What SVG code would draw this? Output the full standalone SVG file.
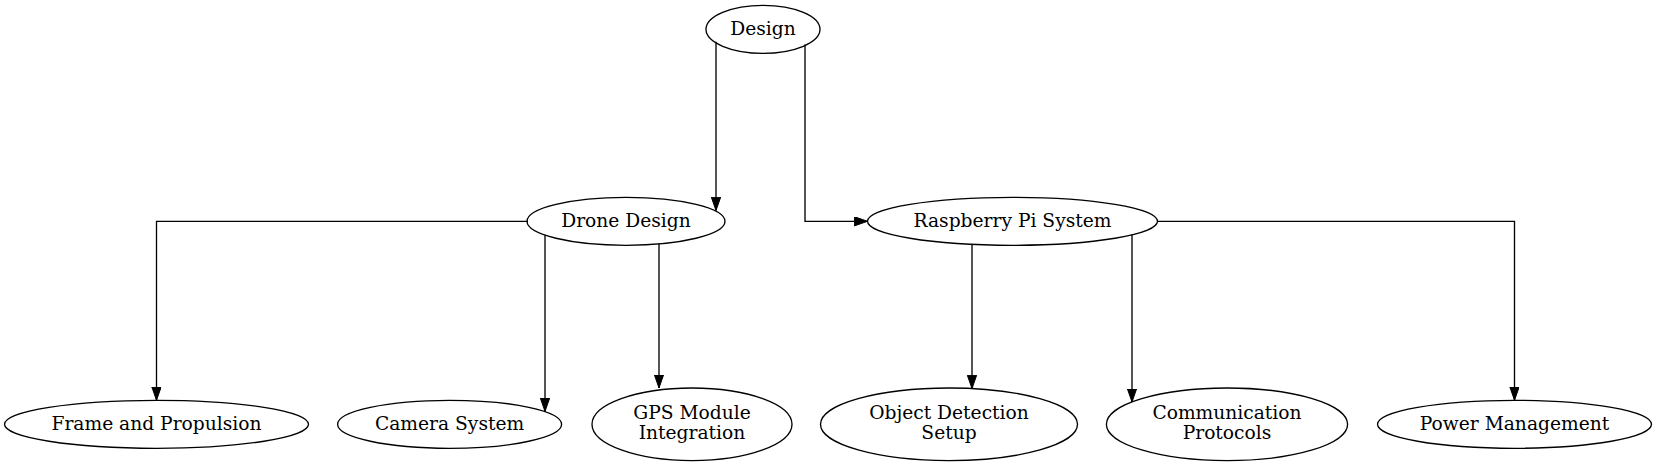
<svg xmlns="http://www.w3.org/2000/svg" width="1659" height="466" viewBox="0 0 1659 466">
<style>
.node ellipse{fill:none;stroke:#000;stroke-width:1.33}
.node text{font-family:"DejaVu Serif","Liberation Serif",serif;font-size:18.67px;text-anchor:middle;fill:#000}
.edge{fill:none;stroke:#000;stroke-width:1.33}
</style>
<defs>
<marker id="arr" markerUnits="userSpaceOnUse" markerWidth="14" markerHeight="10" refX="13.33" refY="4.67" orient="auto">
<path d="M0,0 L13.33,4.67 L0,9.33 z" fill="#000" stroke="#000" stroke-width="1"/>
</marker>
</defs>
<rect width="1659" height="466" fill="#fff"/>
<g id="connectors">
<path class="edge" marker-end="url(#arr)" d="M716,41.8 V210.5"/>
<path class="edge" marker-end="url(#arr)" d="M805,44.5 V221.3 H867.5"/>
<path class="edge" marker-end="url(#arr)" d="M528,221.3 H156.5 V400.3"/>
<path class="edge" marker-end="url(#arr)" d="M545,234.8 V411.4"/>
<path class="edge" marker-end="url(#arr)" d="M659,243.6 V388"/>
<path class="edge" marker-end="url(#arr)" d="M972,244.3 V388.6"/>
<path class="edge" marker-end="url(#arr)" d="M1132,234.6 V402"/>
<path class="edge" marker-end="url(#arr)" d="M1157.5,221.3 H1514.5 V400.3"/>
</g>
<g id="design" class="node"><ellipse cx="763" cy="29.3" rx="57" ry="24"/><text x="763" y="34.9">Design</text></g>
<g id="drone_design" class="node"><ellipse cx="626" cy="221.3" rx="99" ry="24"/><text x="626" y="226.9">Drone Design</text></g>
<g id="raspberry_pi" class="node"><ellipse cx="1012.5" cy="221.3" rx="145" ry="24"/><text x="1012.5" y="226.9">Raspberry Pi System</text></g>
<g id="frame" class="node"><ellipse cx="156.5" cy="424.3" rx="152" ry="24"/><text x="156.5" y="429.9">Frame and Propulsion</text></g>
<g id="camera" class="node"><ellipse cx="449.6" cy="424.3" rx="112" ry="24"/><text x="449.6" y="429.9">Camera System</text></g>
<g id="gps" class="node"><ellipse cx="692" cy="424.3" rx="100" ry="36.3"/><text x="692" y="419.2">GPS Module</text><text x="692" y="439.2">Integration</text></g>
<g id="object_detection" class="node"><ellipse cx="949" cy="424.3" rx="128.5" ry="36.3"/><text x="949" y="419.2">Object Detection</text><text x="949" y="439.2">Setup</text></g>
<g id="communication" class="node"><ellipse cx="1227" cy="424.3" rx="120.6" ry="36.3"/><text x="1227" y="419.2">Communication</text><text x="1227" y="439.2">Protocols</text></g>
<g id="power" class="node"><ellipse cx="1514.5" cy="424.3" rx="137" ry="24"/><text x="1514.5" y="429.9">Power Management</text></g>
</svg>
